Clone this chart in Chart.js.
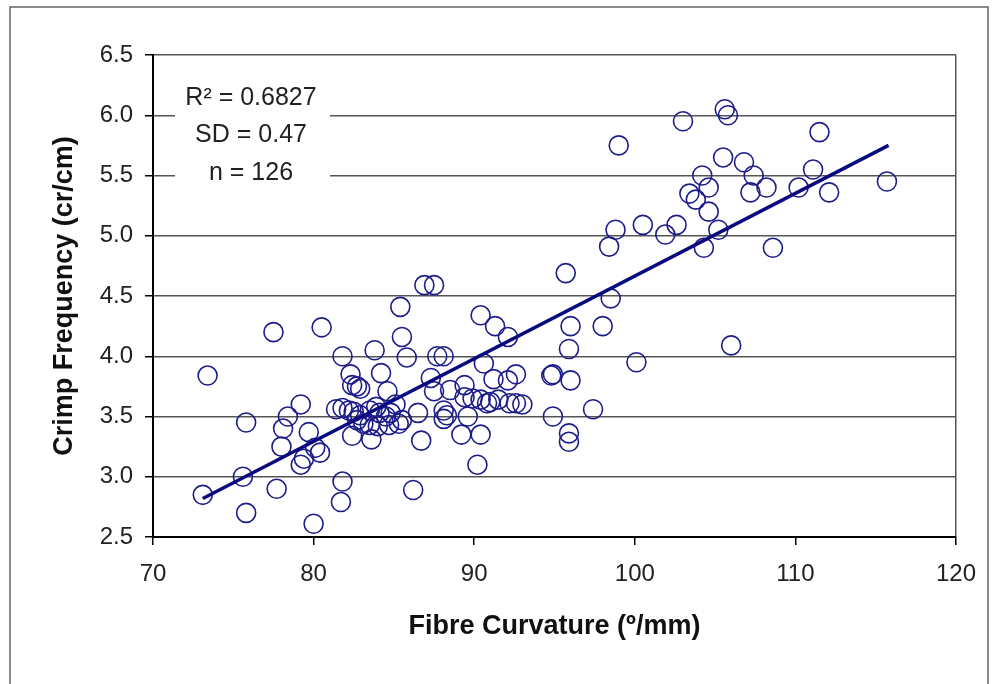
<!DOCTYPE html>
<html>
<head>
<meta charset="utf-8">
<script src="https://cdn.jsdelivr.net/npm/chart.js@4/dist/chart.umd.min.js"></script>
<style>
  html, body { margin: 0; padding: 0; background: #fff; }
  #wrap { width: 996px; height: 684px; }
</style>
</head>
<body>
<div id="wrap"><canvas id="crimpChart" width="996" height="684"></canvas></div>
<script>
// 纤维曲率 vs 卷曲频率 散点图

// 数据
var fibreCurvature = [
    73.4, 73.1, 75.8, 75.6, 75.8, 77.5, 77.7, 78.0, 78.1, 78.4,
    79.2, 79.7, 80.1, 80.4, 79.4, 79.2, 80.0, 80.5, 81.8, 81.7,
    81.8, 83.8, 82.3, 82.4, 82.7, 82.9, 84.2, 84.6, 85.4, 85.5,
    85.8, 86.9, 87.5, 87.7, 88.1, 90.6, 90.4, 91.3, 92.1, 87.3,
    87.5, 89.4, 91.2, 92.1, 92.6, 94.8, 81.4, 81.8, 82.2, 82.5,
    82.9, 83.5, 83.9, 84.1, 84.5, 84.8, 85.1, 85.5, 85.3, 84.7,
    84.0, 83.5, 83.1, 82.7, 82.4, 83.6, 86.5, 86.7, 86.2, 88.1,
    88.3, 89.6, 89.2, 90.4, 90.2, 89.4, 89.9, 90.4, 90.8, 91.0,
    91.5, 92.2, 92.6, 93.0, 88.5, 94.9, 95.7, 95.9, 95.9, 96.0,
    95.9, 94.9, 96.0, 97.4, 98.0, 98.5, 100.1, 98.4, 98.8, 99.0,
    100.5, 101.9, 102.6, 103.0, 105.6, 105.8, 105.5, 106.8, 107.4, 107.2,
    108.2, 104.2, 104.6, 103.4, 103.8, 104.6, 105.2, 104.3, 106.0, 108.6,
    110.2, 111.1, 111.5, 112.1, 115.7, 88.1
];
var crimpFrequency = [
    3.84, 2.85, 3.45, 3.00, 2.70, 4.20, 2.90, 3.25, 3.40, 3.50,
    3.60, 3.37, 3.24, 3.20, 3.15, 3.10, 2.61, 4.24, 2.96, 2.79,
    4.00, 4.05, 3.85, 3.76, 3.75, 3.73, 3.86, 3.71, 4.41, 4.16,
    3.99, 4.59, 4.59, 4.00, 4.00, 3.94, 4.34, 4.25, 4.16, 3.82,
    3.71, 3.76, 3.81, 3.80, 3.85, 3.84, 3.56, 3.57, 3.55, 3.54,
    3.51, 3.55, 3.58, 3.53, 3.50, 3.53, 3.60, 3.47, 3.44, 3.43,
    3.42, 3.43, 3.44, 3.47, 3.34, 3.31, 3.53, 3.30, 2.89, 3.55,
    3.51, 3.50, 3.35, 3.35, 3.10, 3.66, 3.65, 3.64, 3.61, 3.62,
    3.64, 3.61, 3.61, 3.60, 3.72, 3.50, 4.69, 3.36, 3.29, 4.25,
    4.06, 3.85, 3.80, 3.56, 4.25, 4.48, 3.95, 4.91, 5.05, 5.75,
    5.09, 5.01, 5.09, 5.95, 6.05, 6.00, 5.65, 5.61, 5.50, 5.36,
    5.40, 5.50, 5.40, 5.35, 5.30, 5.20, 5.05, 4.90, 4.09, 4.90,
    5.40, 5.55, 5.86, 5.36, 5.45, 3.48
];

// 趋势线两端
var trendX = [73.1, 115.8];
var trendY = [2.82, 5.75];

// 统计文字
var statLines = ['R\u00B2 = 0.6827', 'SD = 0.47', 'n = 126'];

var navy = '#1c1c8a';
var fontFamily = '"Liberation Sans", Arial, sans-serif';

var points = fibreCurvature.map(function(x, i) {
    return { x: x, y: crimpFrequency[i] };
});
var trendPoints = trendX.map(function(x, i) {
    return { x: x, y: trendY[i] };
});

// 外框 + 统计文字框
var decorPlugin = {
    id: 'decor',
    beforeDatasetsDraw: function(chart) {
        var ctx = chart.ctx;
        ctx.save();
        // 文字框白底遮住网格线
        ctx.fillStyle = '#fff';
        ctx.fillRect(175, 74, 155, 122);
        ctx.fillStyle = '#222';
        ctx.font = '25px ' + fontFamily;
        ctx.textAlign = 'center';
        ctx.textBaseline = 'middle';
        var ys = [98, 135, 173];
        statLines.forEach(function(t, i) {
            ctx.fillText(t, 251, ys[i]);
        });
        ctx.restore();
    },
    afterDraw: function(chart) {
        var ctx = chart.ctx;
        ctx.save();
        ctx.strokeStyle = '#666';
        ctx.lineWidth = 1.5;
        ctx.strokeRect(10, 7, 978, 700);
        ctx.restore();
    }
};

var chart = new Chart(document.getElementById('crimpChart'), {
    type: 'scatter',
    data: {
        datasets: [{
            type: 'line',
            data: trendPoints,
            borderColor: '#0a0a80',
            borderWidth: 3.5,
            pointRadius: 0,
            fill: false
        }, {
            data: points,
            pointStyle: 'circle',
            pointRadius: 9.5,
            pointBorderWidth: 1.6,
            pointBorderColor: navy,
            pointBackgroundColor: 'rgba(0,0,0,0)',
            showLine: false
        }]
    },
    options: {
        responsive: false,
        animation: false,
        events: [],
        layout: { padding: { top: 55, right: 40, left: 0, bottom: 0 } },
        plugins: {
            legend: { display: false },
            tooltip: { enabled: false }
        },
        scales: {
            x: {
                min: 70,
                max: 120,
                afterFit: function(scale) { scale.height = 147; },
                ticks: {
                    stepSize: 10,
                    padding: 15,
                    color: '#222',
                    font: { size: 24, family: fontFamily }
                },
                grid: {
                    color: function(c) { return c.tick && c.tick.value === 120 ? '#555' : 'rgba(0,0,0,0)'; },
                    lineWidth: 1.5,
                    tickColor: '#000',
                    tickLength: 8
                },
                border: { color: '#000', width: 2 },
                title: {
                    display: true,
                    text: 'Fibre Curvature (\u00BA/mm)',
                    color: '#111',
                    font: { size: 27, weight: 'bold', family: fontFamily },
                    padding: { top: 0, bottom: 41 }
                }
            },
            y: {
                min: 2.5,
                max: 6.5,
                afterFit: function(scale) { scale.width = 153; },
                ticks: {
                    stepSize: 0.5,
                    padding: 12,
                    color: '#222',
                    font: { size: 24, family: fontFamily },
                    callback: function(v) { return v.toFixed(1); }
                },
                grid: {
                    color: '#555',
                    lineWidth: 1.5,
                    tickColor: '#000',
                    tickLength: 8
                },
                border: { color: '#000', width: 2 },
                title: {
                    display: true,
                    text: 'Crimp Frequency (cr/cm)',
                    color: '#111',
                    font: { size: 27, weight: 'bold', family: fontFamily },
                    padding: { top: 48, bottom: 0 }
                }
            }
        }
    },
    plugins: [decorPlugin]
});
</script>
</body>
</html>
